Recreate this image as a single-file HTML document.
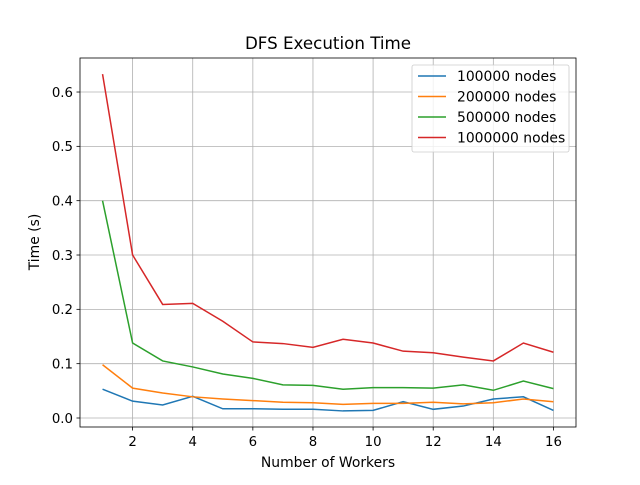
<!DOCTYPE html>
<html><head><meta charset="utf-8"><style>
body{margin:0;background:#fff}
text{font-family:"DejaVu Sans","Liberation Sans",sans-serif;fill:#000}
</style></head><body>
<svg id="chart" width="640" height="480">
<g id="grid"></g>
<g id="series"></g>
<rect x="80" y="58" width="496" height="369" fill="none" stroke="#000" stroke-width="0.8"/>
<g id="axes"></g>
<text x="328" y="49" font-size="16.7" text-anchor="middle">DFS Execution Time</text>
<text x="328" y="467" font-size="13.9" text-anchor="middle">Number of Workers</text>
<text transform="translate(39,242) rotate(-90)" font-size="13.9" text-anchor="middle">Time (s)</text>
<g id="legend"></g>
</svg>
<script>
const workers=[1,2,3,4,5,6,7,8,9,10,11,12,13,14,15,16];
const s100k=[.053,.031,.024,.040,.017,.017,.016,.016,.013,.014,.030,.016,.022,.035,.039,.014];
const s200k=[.098,.055,.046,.039,.035,.032,.029,.028,.025,.027,.027,.029,.026,.028,.035,.030];
const s500k=[.400,.138,.105,.094,.081,.073,.061,.060,.053,.056,.056,.055,.061,.051,.068,.054];
const s1m=[.633,.300,.209,.211,.178,.140,.137,.130,.145,.138,.123,.120,.112,.105,.138,.121];
const seriesNames=["100000 nodes","200000 nodes","500000 nodes","1000000 nodes"];
const xTicks=[2,4,6,8,10,12,14,16];
const yTicks=[0,0.1,0.2,0.3,0.4,0.5,0.6];
const colors=["#1f77b4","#ff7f0e","#2ca02c","#d62728"];
const NS="http://www.w3.org/2000/svg";
const X=v=>80+(v-0.25)/16.5*496;
const Y=v=>418-v*543.3;
function mk(tag,attrs,parent){const e=document.createElementNS(NS,tag);for(const k in attrs)e.setAttribute(k,attrs[k]);parent.appendChild(e);return e;}
const grid=document.getElementById('grid'),axes=document.getElementById('axes');
xTicks.forEach(t=>{
 const g=mk('line',{x1:X(t),x2:X(t),y1:58,y2:427,stroke:'#b0b0b0','stroke-width':0.8},grid);
 
 
 mk('line',{x1:X(t),x2:X(t),y1:427,y2:430.5,stroke:'#000','stroke-width':0.8},axes);
 const tx=mk('text',{x:X(t),y:446,'font-size':13.3,'text-anchor':'middle'},axes);tx.textContent=t;
 
 
});
yTicks.forEach(t=>{
 const g=mk('line',{x1:80,x2:576,y1:Y(t),y2:Y(t),stroke:'#b0b0b0','stroke-width':0.8},grid);
 
 
 mk('line',{x1:76.5,x2:80,y1:Y(t),y2:Y(t),stroke:'#000','stroke-width':0.8},axes);
 const tx=mk('text',{x:73,y:Y(t)+4.8,'font-size':13.3,'text-anchor':'end'},axes);tx.textContent=t.toFixed(1);
 
 
});
const all=[s100k,s200k,s500k,s1m];
const sg=document.getElementById('series');
all.forEach((s,i)=>{
 const p=mk('polyline',{points:s.map((v,j)=>X(workers[j])+','+Y(v)).join(' '),fill:'none',stroke:colors[i],'stroke-width':1.5},sg);
 
 
});
const lg=document.getElementById('legend');
const box=mk('rect',{x:412,y:65,width:157,height:87,rx:2,fill:'#fff','fill-opacity':0.8,stroke:'#ccc','stroke-width':0.8},lg);


seriesNames.forEach((n,i)=>{
 const y=76+i*20.5;
 mk('line',{x1:418,x2:446,y1:y,y2:y,stroke:colors[i],'stroke-width':1.5},lg);
 const t=mk('text',{x:457,y:y+4.8,'font-size':13.9},lg);t.textContent=n;
 
 
});
</script>
</body></html>
